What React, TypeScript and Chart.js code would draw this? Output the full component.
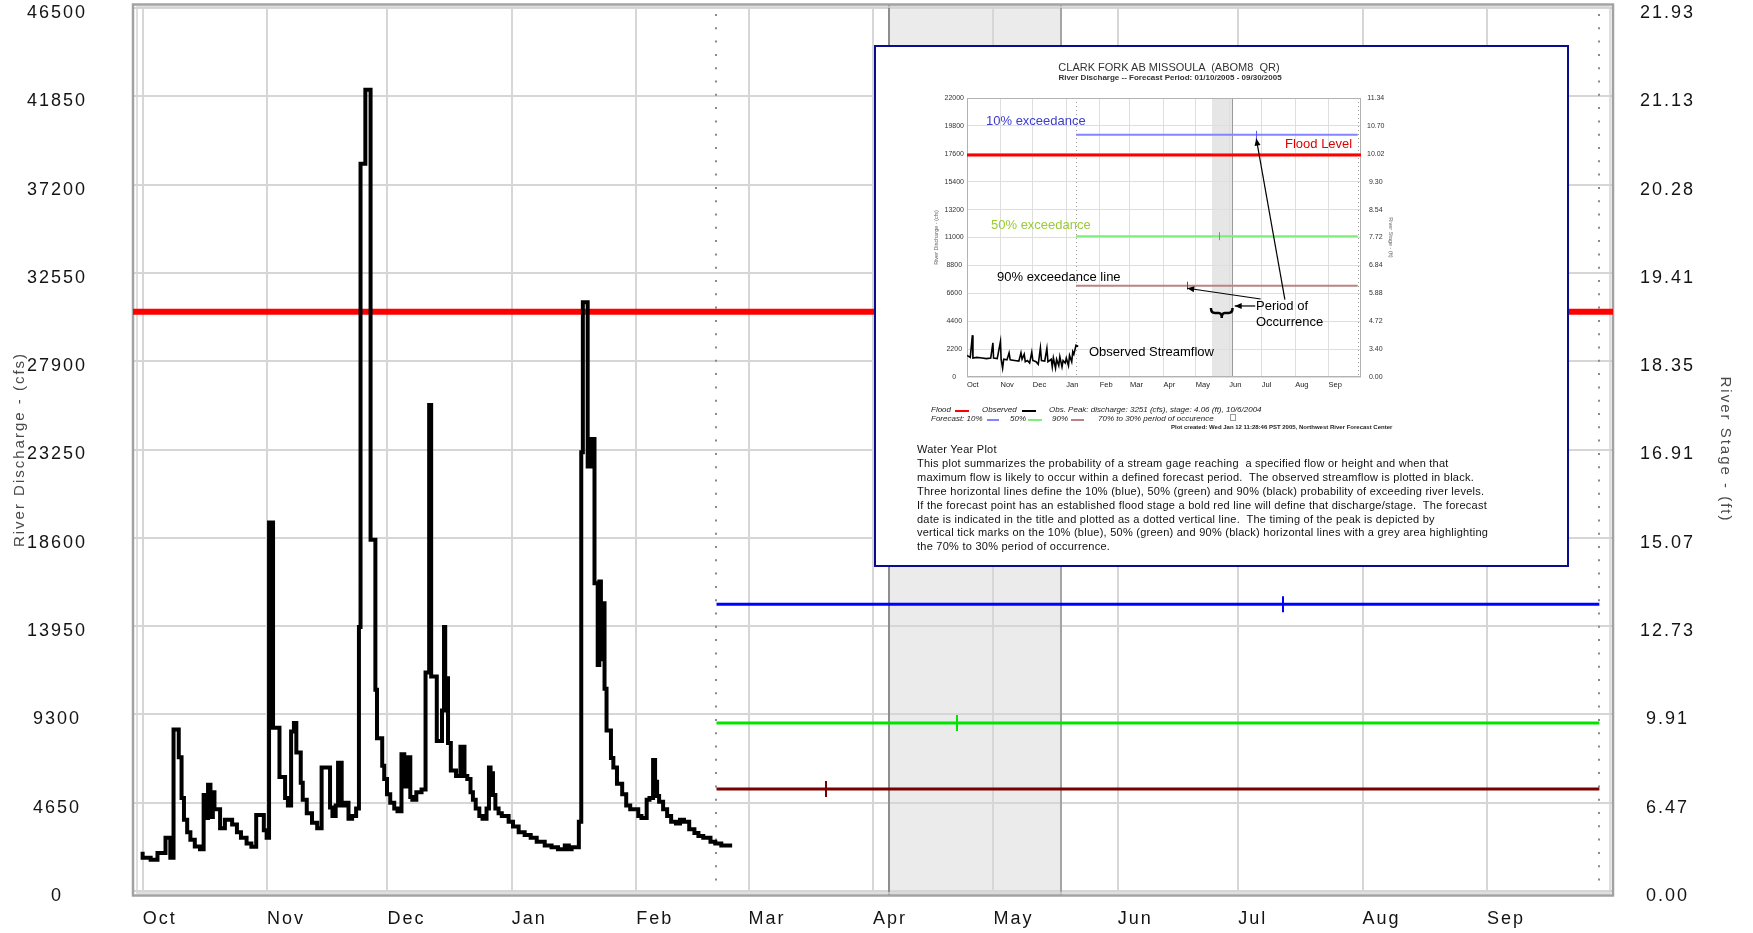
import React, { useEffect, useRef } from 'react';
import { Chart, registerables } from 'chart.js';

Chart.register(...registerables);

const FONT = "'Liberation Sans', Arial, Helvetica, sans-serif";

// ---------------- main chart values ----------------
const monthLabels = ['Oct', 'Nov', 'Dec', 'Jan', 'Feb', 'Mar', 'Apr', 'May', 'Jun', 'Jul', 'Aug', 'Sep'];
const monthStartDays = [0, 31, 61, 92, 123, 151, 182, 212, 243, 273, 304, 335];
const axisStartDay = -2.4;
const axisEndDay = 366.4;
const flowTicks = [0, 4650, 9300, 13950, 18600, 23250, 27900, 32550, 37200, 41850, 46500];
const stageTickLabels = ['0.00', '6.47', '9.91', '12.73', '15.07', '16.91', '18.35', '19.41', '20.28', '21.13', '21.93'];

// observed discharge (day offset from Oct 1, cfs) - level starts
const observedDays = [
  0, 2.0, 3.7, 5.7, 6.9, 7.7, 9.0, 9.7, 10.3, 11.1,
  11.9, 13.0, 14.3, 15.2, 15.7, 16.3, 16.9, 17.5, 17.9, 19.3,
  20.5, 22.3, 23.5, 24.5, 25.9, 27.1, 28.3, 30.2, 30.9, 31.5,
  32.5, 34.1, 35.5, 36.2, 37.0, 37.7, 38.3, 39.4, 39.9, 40.9,
  42.2, 43.5, 44.6, 46.7, 47.3, 48.1, 48.7, 49.6, 50.3, 51.3,
  52.2, 53.2, 53.9, 54.3, 55.5, 56.8, 58.0, 58.4, 59.7, 60.2,
  60.9, 61.7, 62.7, 63.5, 64.5, 65.2, 66.0, 66.7, 67.2, 68.2,
  69.5, 70.5, 71.4, 71.9, 73.3, 74.6, 75.1, 75.4, 76.1, 76.8,
  78.1, 79.2, 80.2, 80.9, 81.7, 82.3, 83.0, 83.9, 84.7, 85.7,
  86.3, 86.7, 87.3, 87.9, 88.7, 89.5, 91.2, 92.3, 93.7, 95.2,
  96.7, 98.2, 100.2, 101.9, 103.5, 105.2, 106.2, 106.9, 108.7, 109.3,
  109.7, 110.9, 111.8, 112.6, 113.4, 113.8, 114.2, 114.7, 115.1, 115.6,
  116.7, 117.3, 118.2, 119.5, 120.5, 121.5, 123.5, 124.3, 125.6, 126.3,
  127.2, 127.7, 128.2, 128.7, 129.7, 130.7, 131.7, 132.9, 133.9, 134.9,
  136.2, 137.5, 138.5, 139.7, 141.5, 142.7, 144.2, 145.7, 146.9,
];
const observedFlow = [
  2070, 1750, 1650, 2000, 2800, 1750, 8500, 7050, 4900, 3750,
  3100, 2700, 2350, 2200, 5050, 3850, 5600, 3900, 5200, 4300,
  3300, 3750, 3500, 3100, 2800, 2500, 2330, 4000, 3200, 2800,
  19400, 8600, 6000, 4900, 4500, 8400, 8850, 7300, 5700, 4800,
  4100, 3600, 3300, 6500, 4400, 3950, 4500, 6750, 4500, 4650,
  3800, 3950, 4350, 13900, 38300, 42200, 18500, 10600, 8050, 6600,
  5900, 5100, 4650, 4350, 4200, 7200, 5500, 7050, 4950, 4800,
  5200, 5350, 11500, 25600, 11300, 7900, 9500, 13900, 11200, 7800,
  6350, 6050, 7600, 6050, 5900, 5200, 4800, 4350, 3950, 3800,
  4350, 6500, 6200, 5050, 4350, 4100, 3950, 3650, 3400, 3100,
  2950, 2800, 2600, 2400, 2300, 2200, 2400, 2200, 2300, 3650,
  23100, 31000, 22350, 23800, 16200, 11900, 16300, 12200, 15150, 10650,
  8450, 7000, 6500, 5650, 5100, 4500, 4300, 3950, 3850, 4800,
  4900, 6900, 5750, 5000, 4700, 4300, 3950, 3650, 3550, 3750,
  3650, 3250, 3050, 2900, 2800, 2600, 2500, 2400, 2400,
];

const floodFlow = 30500;
const forecastStartDay = 143;
const forecastEndDay = 363;
const exceedanceFlows = [15100, 8850, 5370]; // 10%, 50%, 90%
const exceedancePeakDays = [284.2, 202.9, 170.3];
const shadeStartDay = 186;
const shadeEndDay = 228.8;

const exceedanceColors = ['#0000ff', '#00e400', '#780000'];

// ---------------- inset chart values ----------------
const insetFlowTicks = [0, 2200, 4400, 6600, 8800, 11000, 13200, 15400, 17600, 19800, 22000];
const insetStageLabels = ['0.00', '3.40', '4.72', '5.88', '6.84', '7.72', '8.54', '9.30', '10.02', '10.70', '11.34'];
const insetObsDays = [
  0, 3, 5, 5.5, 9, 14, 18, 22, 24, 24.6,
  28, 31, 31.6, 33, 34, 37, 39, 40, 44, 48,
  50, 51, 53, 54, 56, 58, 60, 61, 64, 66,
  68, 69, 72, 74, 75, 78, 79, 80, 82, 83,
  85, 86, 88, 89, 91, 92, 94, 95, 97, 98,
  99, 101, 103,
];
const insetObsFlow = [
  1700, 1550, 3300, 1500, 1550, 1500, 1450, 1500, 2700, 1500,
  1450, 2800, 1400, 700, 1400, 1350, 1900, 1350, 1300, 1250,
  1900, 1400, 1800, 1200, 1300, 1100, 1950, 1300, 1200, 1000,
  2300, 1300, 1250, 2250, 1200, 1400, 800, 1500, 700, 1400,
  900, 1600, 800, 1300, 1100, 1500, 900, 1700, 1200, 2000,
  1800, 2500, 2400,
];
const insetFloodFlow = 17500;
const insetForecastStartDay = 101;
const insetForecastEndDay = 362;
const insetExceedanceFlows = [19100, 11100, 7200];
const insetPeakDays = [267.7, 233.4, 203.8];
const insetShadeStartDay = 227;
const insetShadeEndDay = 245.5;
const insetArrowFromDays = [294.5, 272, 267];
const insetArrowFromFlows = [6100, 6150, 5600];
const insetArrowToDays = [268, 204, 248];
const insetArrowToFlows = [18800, 7000, 5600];
const insetBraceStartDay = 226;
const insetBraceEndDay = 246;
const insetBraceFlow = 5450;

const insetLineColors = ['#8484ff', '#7cee7c', '#b88484'];
const insetTickColors = ['#5a5aff', '#3cc03c', '#a03030'];

const descriptionLines = [
  'Water Year Plot',
  'This plot summarizes the probability of a stream gage reaching  a specified flow or height and when that',
  'maximum flow is likely to occur within a defined forecast period.  The observed streamflow is plotted in black.',
  'Three horizontal lines define the 10% (blue), 50% (green) and 90% (black) probability of exceeding river levels.',
  'If the forecast point has an established flood stage a bold red line will define that discharge/stage.  The forecast',
  'date is indicated in the title and plotted as a dotted vertical line.  The timing of the peak is depicted by',
  'vertical tick marks on the 10% (blue), 50% (green) and 90% (black) horizontal lines with a grey area highlighting',
  'the 70% to 30% period of occurrence.',
];

const xy = (days: number[], flows: number[]) => days.map((d, i) => ({ x: d, y: flows[i] }));
const level = (from: number, to: number, v: number) => [{ x: from, y: v }, { x: to, y: v }];

function vline(ctx: any, x: number, y0: number, y1: number) {
  ctx.beginPath();
  ctx.moveTo(x, y0);
  ctx.lineTo(x, y1);
  ctx.stroke();
}

function arrow(ctx: any, x1: number, y1: number, x2: number, y2: number) {
  ctx.beginPath();
  ctx.moveTo(x1, y1);
  ctx.lineTo(x2, y2);
  ctx.stroke();
  const ang = Math.atan2(y2 - y1, x2 - x1);
  const L = 7, W = 3;
  ctx.beginPath();
  ctx.moveTo(x2, y2);
  ctx.lineTo(x2 - L * Math.cos(ang) + W * Math.sin(ang), y2 - L * Math.sin(ang) - W * Math.cos(ang));
  ctx.lineTo(x2 - L * Math.cos(ang) - W * Math.sin(ang), y2 - L * Math.sin(ang) + W * Math.cos(ang));
  ctx.closePath();
  ctx.fill();
}

const mainDecor = {
  id: 'mainDecor',
  beforeUpdate(chart: any) {
    chart.ctx.letterSpacing = '2px';
  },
  beforeDraw(chart: any) {
    const { ctx, chartArea: a, scales } = chart;
    ctx.letterSpacing = '2px';
    const x = scales.x;
    const x0 = x.getPixelForValue(shadeStartDay);
    const x1 = x.getPixelForValue(shadeEndDay);
    ctx.save();
    ctx.fillStyle = '#ebebeb';
    ctx.fillRect(x0, a.top - 3, x1 - x0, a.bottom - a.top + 7);
    ctx.restore();
  },
  beforeDatasetsDraw(chart: any) {
    const { ctx, chartArea: a, scales } = chart;
    const x = scales.x;
    ctx.save();
    ctx.strokeStyle = '#8e8e8e';
    ctx.lineWidth = 2;
    vline(ctx, Math.round(x.getPixelForValue(shadeStartDay)), a.top - 3, a.bottom + 4);
    ctx.strokeStyle = '#a4a4a4';
    vline(ctx, Math.round(x.getPixelForValue(shadeEndDay)), a.top - 3, a.bottom + 4);
    ctx.setLineDash([2, 11.3]);
    ctx.strokeStyle = '#8a8a8a';
    ctx.lineWidth = 2;
    for (const d of [forecastStartDay, forecastEndDay]) {
      vline(ctx, Math.round(x.getPixelForValue(d)), a.top + 6, a.bottom);
    }
    ctx.setLineDash([]);
    ctx.strokeStyle = '#d4d4d4';
    ctx.lineWidth = 1.5;
    ctx.strokeRect(a.left + 4, a.top - 1, a.right - a.left - 7, a.bottom - a.top + 3);
    ctx.strokeStyle = '#a2a2a2';
    ctx.lineWidth = 2.5;
    ctx.strokeRect(a.left, a.top - 3.5, a.right - a.left, a.bottom - a.top + 8);
    ctx.restore();
  },
  afterDatasetsDraw(chart: any) {
    const { ctx, scales } = chart;
    const x = scales.x, y = scales.y;
    ctx.save();
    ctx.lineWidth = 2;
    exceedanceFlows.forEach((f, i) => {
      const px = Math.round(x.getPixelForValue(exceedancePeakDays[i]));
      const py = y.getPixelForValue(f);
      ctx.strokeStyle = exceedanceColors[i];
      vline(ctx, px, py - 8, py + 8);
    });
    ctx.restore();
  },
};

const insetDecor = {
  id: 'insetDecor',
  beforeDraw(chart: any) {
    const { ctx, chartArea: a, scales } = chart;
    const x = scales.x;
    const x0 = x.getPixelForValue(insetShadeStartDay);
    const x1 = x.getPixelForValue(insetShadeEndDay);
    ctx.save();
    ctx.fillStyle = '#e6e6e6';
    ctx.fillRect(x0, a.top, x1 - x0, a.bottom - a.top);
    ctx.restore();
  },
  beforeDatasetsDraw(chart: any) {
    const { ctx, chartArea: a, scales } = chart;
    const x = scales.x;
    ctx.save();
    ctx.strokeStyle = '#9a9a9a';
    ctx.lineWidth = 1;
    vline(ctx, Math.round(x.getPixelForValue(insetShadeEndDay)) + 0.5, a.top, a.bottom);
    ctx.setLineDash([1, 3]);
    ctx.strokeStyle = '#9c9c9c';
    for (const d of [insetForecastStartDay, insetForecastEndDay]) {
      vline(ctx, Math.round(x.getPixelForValue(d)) + 0.5, a.top, a.bottom);
    }
    ctx.setLineDash([]);
    ctx.strokeStyle = '#b2b2b2';
    ctx.strokeRect(a.left + 0.5, a.top + 0.5, a.right - a.left - 1, a.bottom - a.top - 1);
    ctx.restore();
  },
  afterDatasetsDraw(chart: any) {
    const { ctx, scales } = chart;
    const x = scales.x, y = scales.y;
    ctx.save();
    ctx.lineWidth = 1;
    insetExceedanceFlows.forEach((f, i) => {
      const px = Math.round(x.getPixelForValue(insetPeakDays[i])) + 0.5;
      const py = y.getPixelForValue(f);
      ctx.strokeStyle = insetTickColors[i];
      vline(ctx, px, py - 4, py + 4);
    });
    const bx0 = x.getPixelForValue(insetBraceStartDay);
    const bx1 = x.getPixelForValue(insetBraceEndDay);
    const by = y.getPixelForValue(insetBraceFlow);
    const bm = (bx0 + bx1) / 2;
    ctx.strokeStyle = '#000';
    ctx.lineWidth = 2.5;
    ctx.beginPath();
    ctx.moveTo(bx0, by);
    ctx.quadraticCurveTo(bx0, by + 5, bx0 + 4, by + 5);
    ctx.lineTo(bm - 3, by + 5);
    ctx.quadraticCurveTo(bm, by + 5, bm, by + 10);
    ctx.quadraticCurveTo(bm, by + 5, bm + 3, by + 5);
    ctx.lineTo(bx1 - 4, by + 5);
    ctx.quadraticCurveTo(bx1, by + 5, bx1, by);
    ctx.stroke();
    ctx.lineWidth = 1.2;
    ctx.fillStyle = '#000';
    insetArrowFromDays.forEach((d, i) => {
      arrow(
        ctx,
        x.getPixelForValue(d), y.getPixelForValue(insetArrowFromFlows[i]),
        x.getPixelForValue(insetArrowToDays[i]), y.getPixelForValue(insetArrowToFlows[i]),
      );
    });
    ctx.restore();
  },
};

function buildMainChart(canvas: HTMLCanvasElement) {
  const datasets: any[] = [
    {
      label: 'Observed',
      data: xy(observedDays, observedFlow),
      borderColor: '#000000',
      borderWidth: 4,
      stepped: 'after',
      pointRadius: 0,
    },
    ...exceedanceFlows.map((f, i) => ({
      label: ['10%', '50%', '90%'][i],
      data: level(forecastStartDay, forecastEndDay, f),
      borderColor: exceedanceColors[i],
      borderWidth: 3,
      pointRadius: 0,
    })),
    {
      label: 'Flood',
      data: level(axisStartDay, axisEndDay, floodFlow),
      borderColor: '#ff0000',
      borderWidth: 6,
      pointRadius: 0,
    },
  ];
  const tickFont = { family: FONT, size: 18 };
  return new Chart(canvas, {
    type: 'line',
    data: { datasets },
    options: {
      responsive: false,
      animation: false,
      devicePixelRatio: 1,
      layout: { padding: { top: 8, left: 0, right: 0, bottom: 0 } },
      plugins: { legend: { display: false }, tooltip: { enabled: false } },
      elements: { line: { tension: 0 } },
      scales: {
        x: {
          type: 'linear',
          min: axisStartDay,
          max: axisEndDay,
          afterBuildTicks: (s: any) => { s.ticks = monthStartDays.map((v) => ({ value: v })); },
          afterFit: (s: any) => { s.height = 42; s.paddingLeft = 0; s.paddingRight = 0; },
          grid: { color: '#d6d6d6', lineWidth: 2, drawTicks: false },
          border: { display: false },
          ticks: {
            autoSkip: false, maxRotation: 0, align: 'start', padding: 17,
            color: '#141414', font: tickFont,
            callback: (_v: any, i: number) => monthLabels[i],
          },
        },
        y: {
          type: 'linear',
          position: 'left',
          min: 0,
          max: 46500,
          afterBuildTicks: (s: any) => { s.ticks = flowTicks.map((v) => ({ value: v })); },
          afterFit: (s: any) => { s.width = 133; s.paddingTop = 0; s.paddingBottom = 0; },
          grid: { color: '#d6d6d6', lineWidth: 2, drawTicks: false },
          border: { display: false },
          ticks: {
            crossAlign: 'center', padding: 46, labelOffset: 5, color: '#141414', font: tickFont,
            callback: (v: any) => String(v),
          },
          title: {
            display: true, text: 'River Discharge - (cfs)', color: '#4a4a4a',
            font: { family: FONT, size: 15 }, padding: { top: 11, bottom: 0 },
          },
        },
        y2: {
          type: 'linear',
          position: 'right',
          min: 0,
          max: 46500,
          afterBuildTicks: (s: any) => { s.ticks = flowTicks.map((v) => ({ value: v })); },
          afterFit: (s: any) => { s.width = 140; s.paddingTop = 0; s.paddingBottom = 0; },
          grid: { display: false, drawTicks: false },
          border: { display: false },
          ticks: {
            crossAlign: 'center', padding: 27, labelOffset: 5, color: '#141414', font: tickFont,
            callback: (_v: any, i: number) => stageTickLabels[i],
          },
          title: {
            display: true, text: 'River Stage - (ft)', color: '#4a4a4a',
            font: { family: FONT, size: 15 }, padding: { top: 19, bottom: 0 },
          },
        },
      },
    } as any,
    plugins: [mainDecor as any],
  });
}

function buildInsetChart(canvas: HTMLCanvasElement) {
  const datasets: any[] = [
    {
      label: 'Observed',
      data: xy(insetObsDays, insetObsFlow),
      borderColor: '#000000',
      borderWidth: 1.6,
      pointRadius: 0,
    },
    ...insetExceedanceFlows.map((f, i) => ({
      label: ['10%', '50%', '90%'][i],
      data: level(insetForecastStartDay, insetForecastEndDay, f),
      borderColor: insetLineColors[i],
      borderWidth: 2,
      pointRadius: 0,
    })),
    {
      label: 'Flood',
      data: level(0, 365, insetFloodFlow),
      borderColor: '#ff0000',
      borderWidth: 3,
      pointRadius: 0,
    },
  ];
  const tickFont = { family: FONT, size: 7 };
  return new Chart(canvas, {
    type: 'line',
    data: { datasets },
    options: {
      responsive: false,
      animation: false,
      devicePixelRatio: 1,
      layout: { padding: { top: 51, left: 0, right: 0, bottom: 0 } },
      plugins: { legend: { display: false }, tooltip: { enabled: false } },
      elements: { line: { tension: 0 } },
      scales: {
        x: {
          type: 'linear', min: 0, max: 365,
          afterBuildTicks: (s: any) => { s.ticks = monthStartDays.map((v) => ({ value: v })); },
          afterFit: (s: any) => { s.height = 188; s.paddingLeft = 0; s.paddingRight = 0; },
          grid: { color: '#dedede', lineWidth: 1, drawTicks: false },
          border: { display: false },
          ticks: {
            autoSkip: false, maxRotation: 0, align: 'start', padding: 3,
            color: '#222', font: { family: FONT, size: 7.5 },
            callback: (_v: any, i: number) => monthLabels[i],
          },
        },
        y: {
          type: 'linear', position: 'left', min: 0, max: 22000,
          afterBuildTicks: (s: any) => { s.ticks = insetFlowTicks.map((v) => ({ value: v })); },
          afterFit: (s: any) => { s.width = 91; s.paddingTop = 0; s.paddingBottom = 0; },
          grid: { color: '#dedede', lineWidth: 1, drawTicks: false },
          border: { display: false },
          ticks: {
            crossAlign: 'center', padding: 3, color: '#333', font: tickFont,
            callback: (v: any) => String(v),
          },
          title: {
            display: true, text: 'River Discharge - (cfs)', color: '#666',
            font: { family: FONT, size: 5.5 }, padding: { top: 57, bottom: 0 },
          },
        },
        y2: {
          type: 'linear', position: 'right', min: 0, max: 22000,
          afterBuildTicks: (s: any) => { s.ticks = insetFlowTicks.map((v) => ({ value: v })); },
          afterFit: (s: any) => { s.width = 206; s.paddingTop = 0; s.paddingBottom = 0; },
          grid: { display: false, drawTicks: false },
          border: { display: false },
          ticks: {
            crossAlign: 'center', padding: 6, color: '#333', font: tickFont,
            callback: (_v: any, i: number) => insetStageLabels[i],
          },
          title: {
            display: true, text: 'River Stage - (ft)', color: '#666',
            font: { family: FONT, size: 5.5 }, padding: { top: 173, bottom: 0 },
          },
        },
      },
    } as any,
    plugins: [insetDecor as any],
  });
}

function Label(props: any) {
  const { x, y, size, color = '#111', weight = 'normal', italic = false, center = false, children } = props;
  return (
    <div
      style={{
        position: 'absolute', left: x, top: y - size * 0.6, fontSize: size,
        lineHeight: `${size * 1.2}px`, color, fontWeight: weight,
        fontStyle: italic ? 'italic' : 'normal', whiteSpace: 'pre',
        transform: center ? 'translateX(-50%)' : undefined, fontFamily: FONT,
      }}
    >
      {children}
    </div>
  );
}

function Swatch(props: any) {
  const { x, y, w, color } = props;
  return <div style={{ position: 'absolute', left: x, top: y - 1, width: w, height: 2, background: color }} />;
}

export default function App() {
  const mainRef = useRef<HTMLCanvasElement>(null);
  const insetRef = useRef<HTMLCanvasElement>(null);

  useEffect(() => {
    const main = buildMainChart(mainRef.current as HTMLCanvasElement);
    const inset = buildInsetChart(insetRef.current as HTMLCanvasElement);
    return () => {
      main.destroy();
      inset.destroy();
    };
  }, []);

  return (
    <div style={{ position: 'fixed', left: 0, top: 0, width: 1753, height: 933, background: '#ffffff', overflow: 'hidden', fontFamily: FONT }}>
      <canvas ref={mainRef} width={1753} height={933} style={{ position: 'absolute', left: 0, top: 0, width: 1753, height: 933 }} />
      <div style={{ position: 'absolute', left: 874, top: 45, width: 691, height: 518, border: '2px solid #0c0c8e', background: '#ffffff' }}>
        <canvas ref={insetRef} width={691} height={518} style={{ position: 'absolute', left: 0, top: 0, width: 691, height: 518 }} />
        <Label x={293} y={21} size={11} color="#333" center>{'CLARK FORK AB MISSOULA  (ABOM8  QR)'}</Label>
        <Label x={294} y={31} size={8} color="#333" weight="bold" center>{'River Discharge -- Forecast Period: 01/10/2005 - 09/30/2005'}</Label>

        <Label x={110} y={74} size={13} color="#3c3cd0">10% exceedance</Label>
        <Label x={409} y={97} size={13} color="#e00000">Flood Level</Label>
        <Label x={115} y={178} size={13} color="#99cc33">50% exceedance</Label>
        <Label x={121} y={230} size={13} color="#000">90% exceedance line</Label>
        <Label x={380} y={259} size={13} color="#000">Period of</Label>
        <Label x={380} y={275} size={13} color="#000">Occurrence</Label>
        <Label x={213} y={305} size={13} color="#000">Observed Streamflow</Label>

        <Label x={55} y={363} size={8} color="#222" italic>Flood</Label>
        <Swatch x={79} y={364} w={14} color="#ff0000" />
        <Label x={106} y={363} size={8} color="#222" italic>Observed</Label>
        <Swatch x={146} y={364} w={14} color="#000000" />
        <Label x={173} y={363} size={8} color="#222" italic>{'Obs. Peak: discharge: 3251 (cfs), stage: 4.06 (ft), 10/6/2004'}</Label>
        <Label x={55} y={372} size={8} color="#222" italic>{'Forecast: 10%'}</Label>
        <Swatch x={111} y={373} w={12} color="#8484ff" />
        <Label x={134} y={372} size={8} color="#222" italic>50%</Label>
        <Swatch x={152} y={373} w={14} color="#7cee7c" />
        <Label x={176} y={372} size={8} color="#222" italic>90%</Label>
        <Swatch x={195} y={373} w={13} color="#b88484" />
        <Label x={222} y={372} size={8} color="#222" italic>{'70% to 30% period of occurence'}</Label>
        <div style={{ position: 'absolute', left: 354, top: 367, width: 4, height: 5, border: '1px solid #999' }} />
        <Label x={295} y={381} size={6} color="#222" weight="bold">{'Plot created: Wed Jan 12 11:28:46 PST 2005, Northwest River Forecast Center'}</Label>

        <div style={{ position: 'absolute', left: 41, top: 396, fontSize: 11, lineHeight: '13.9px', letterSpacing: '0.25px', color: '#111', fontFamily: FONT, whiteSpace: 'pre' }}>
          {descriptionLines.map((t, i) => (
            <div key={i}>{t}</div>
          ))}
        </div>
      </div>
    </div>
  );
}
